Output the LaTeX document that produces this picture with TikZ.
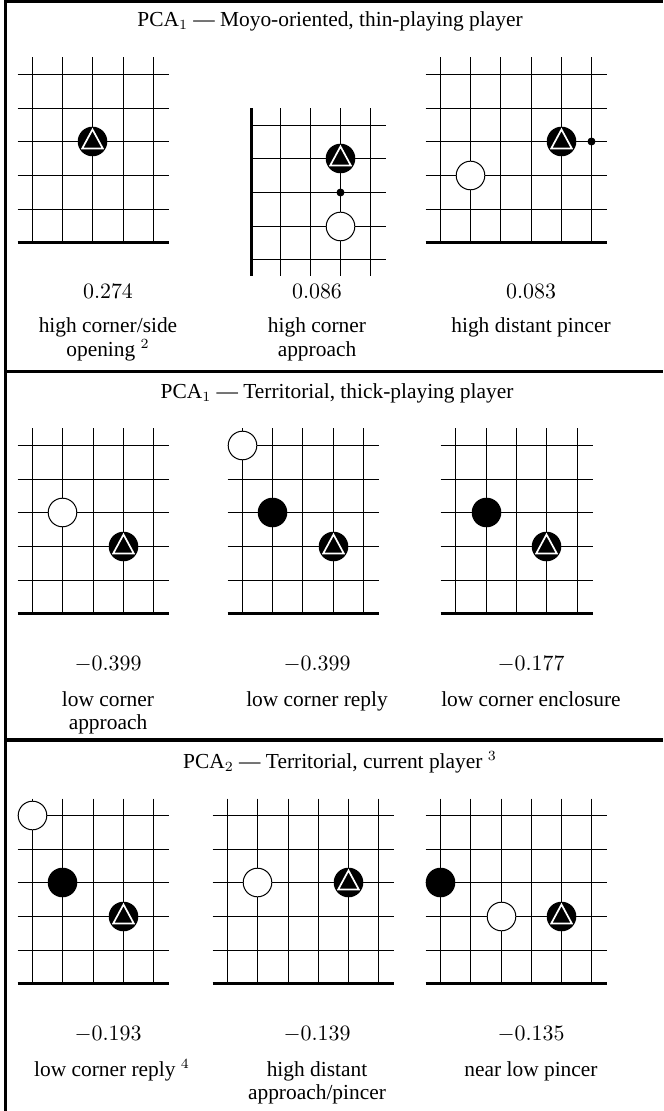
\documentclass[tikz,border=0pt]{standalone}
\usepackage{fontspec}
\setmainfont{Liberation Serif}
\newcommand{\gogrid}[3]{%
  \foreach \c in {#1} {\draw[gline] (\c,57.5) -- (\c,242.5);}
  \foreach \r in {74.5,108.5,141.5,175.5,209.5} {\draw[gline] (#2,\r) -- (#3,\r);}
  \draw[gedge] (#2,242.5) -- (#3,242.5);}
\begin{document}
\begin{tikzpicture}[x=0.5pt,y=-0.5pt,
  font=\fontsize{10.7}{11.75}\selectfont,
  gline/.style={line width=0.5pt},
  gedge/.style={line width=1.5pt},
  frame/.style={line width=1.6pt},
  bstone/.style={circle, fill=black, inner sep=0pt, minimum size=14.8pt},
  wstone/.style={circle, draw=black, fill=white, line width=0.5pt, inner sep=0pt, minimum size=14.3pt},
  tstone/.style={bstone, path picture={
     \draw[white, line width=0.85pt, line join=miter]
       ([yshift=6pt]path picture bounding box.center) --
       ([xshift=5.15pt,yshift=-3.5pt]path picture bounding box.center) --
       ([xshift=-5.15pt,yshift=-3.5pt]path picture bounding box.center) -- cycle;}},
  dotmark/.style={circle, fill=black, inner sep=0pt, minimum size=4pt},
  txt/.style={anchor=base, inner sep=0pt}
]
\useasboundingbox (0,0) rectangle (663,1111);

% frame
\draw[frame] (5.5,0) -- (5.5,1111);
\draw[frame] (5.5,1.5) -- (663,1.5);
\draw[frame] (5.5,371.5) -- (663,371.5);
\draw[frame] (5.5,740) -- (663,740);

% ---------------- section 1 ----------------
\node[txt] (t1) at (330,26.5) {PCA$_1$ --- Moyo-oriented, thin-playing player};

% A1
\gogrid{32.5,62.5,92.5,123.5,153.5}{17.5}{168.5}
\node[tstone] (a1s1) at (92.5,141.5) {};
% A2 (edge on the left)
\foreach \c in {280.5,310.5,340.5,370.5} {\draw[gline] (\c,108.5) -- (\c,276.5);}
\foreach \r in {125.5,158.5,192.5,226.5,259.5} {\draw[gline] (251,\r) -- (385.5,\r);}
\draw[gedge] (251,108.5) -- (251,276.5);
\node[tstone] (a2s1) at (340.5,158.5) {};
\node[dotmark] (a2d1) at (340.5,192.5) {};
\node[wstone] (a2s2) at (340.5,226.5) {};
% A3
\gogrid{440.5,470.5,500.5,531.5,561.5,591.5}{425.5}{606.5}
\node[wstone] (a3s1) at (470.5,175.5) {};
\node[tstone] (a3s2) at (561.5,141.5) {};
\node[dotmark] (a3d1) at (591.5,141.5) {};

\node[txt] (a1v) at (108,299) {$0.274$};
\node[txt] (a2v) at (317,299) {$0.086$};
\node[txt] (a3v) at (531,299) {$0.083$};
\node[txt] (a1l1) at (108,333) {high corner/side};
\node[txt] (a1l2) at (108,356.5) {opening $^2$};
\node[txt] (a2l1) at (317,333) {high corner};
\node[txt] (a2l2) at (317,356.5) {approach};
\node[txt] (a3l1) at (531,333) {high distant pincer};

% ---------------- section 2 ----------------
\begin{scope}[yshift=-185.5pt]
\node[txt] (t2) at (337,27.5) {PCA$_1$ --- Territorial, thick-playing player};
% B1
\gogrid{32.5,62.5,93.5,123.5,153.5}{17.5}{168.5}
\node[wstone] (b1s1) at (62.5,141.5) {};
\node[tstone] (b1s2) at (123.5,175.5) {};
% B2
\gogrid{242.5,272.5,302.5,333.5,363.5}{227.5}{378.5}
\node[wstone] (b2s1) at (242.5,74.5) {};
\node[bstone] (b2s2) at (272.5,141.5) {};
\node[tstone] (b2s3) at (333.5,175.5) {};
% B3
\gogrid{455.5,486.5,516.5,546.5,577.5}{440.5}{592.5}
\node[bstone] (b3s1) at (486.5,141.5) {};
\node[tstone] (b3s2) at (546.5,175.5) {};

\node[txt] (b1v) at (108,299) {$-0.399$};
\node[txt] (b2v) at (317,299) {$-0.399$};
\node[txt] (b3v) at (531,299) {$-0.177$};
\node[txt] (b1l1) at (108,335) {low corner};
\node[txt] (b1l2) at (108,358.5) {approach};
\node[txt] (b2l1) at (317,335) {low corner reply};
\node[txt] (b3l1) at (531,335) {low corner enclosure};
\end{scope}

% ---------------- section 3 ----------------
\begin{scope}[yshift=-370.5pt]
\node[txt] (t3) at (340,27.5) {PCA$_2$ --- Territorial, current player $^3$};
% C1
\gogrid{32.5,62.5,93.5,123.5,153.5}{17.5}{168.5}
\node[wstone] (c1s1) at (32.5,74.5) {};
\node[bstone] (c1s2) at (62.5,141.5) {};
\node[tstone] (c1s3) at (123.5,175.5) {};
% C2
\gogrid{227.5,257.5,288.5,318.5,348.5,378.5}{212.5}{393.5}
\node[wstone] (c2s1) at (257.5,141.5) {};
\node[tstone] (c2s2) at (348.5,141.5) {};
% C3
\gogrid{440.5,470.5,501.5,531.5,561.5,591.5}{425.5}{606.5}
\node[bstone] (c3s1) at (440.5,141.5) {};
\node[wstone] (c3s2) at (501.5,175.5) {};
\node[tstone] (c3s3) at (561.5,175.5) {};

\node[txt] (c1v) at (108,299) {$-0.193$};
\node[txt] (c2v) at (317,299) {$-0.139$};
\node[txt] (c3v) at (531,299) {$-0.135$};
\node[txt] (c1l1) at (112,335) {low corner reply $^4$};
\node[txt] (c2l1) at (317,335) {high distant};
\node[txt] (c2l2) at (317,358.5) {approach/pincer};
\node[txt] (c3l1) at (531,335) {near low pincer};
\end{scope}
\end{tikzpicture}
\end{document}
